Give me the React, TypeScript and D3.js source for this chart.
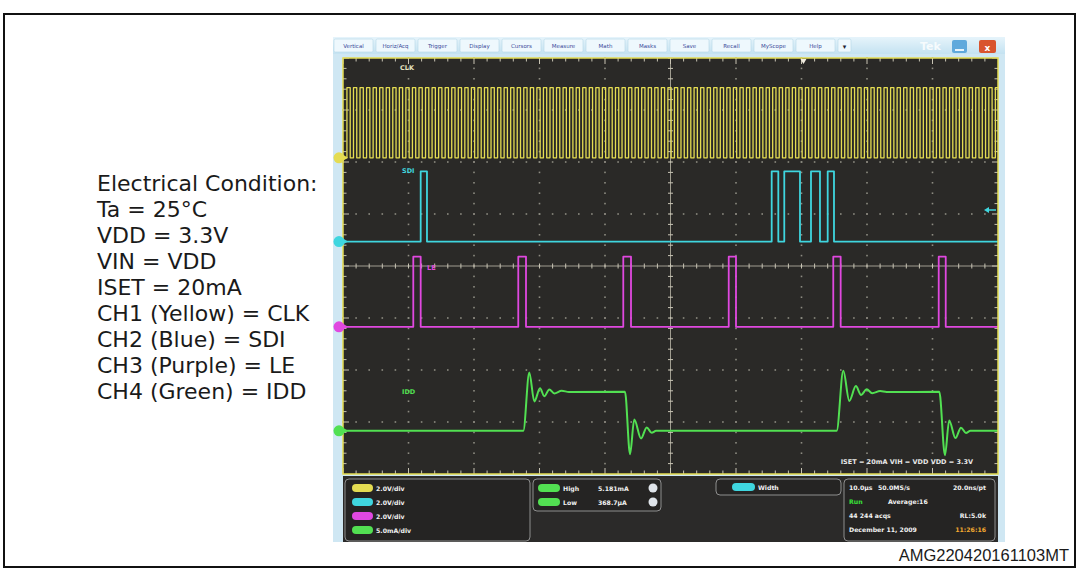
import React from 'react';
import * as d3 from 'd3';

// time axis: 10 div x 10.0us
const timeDomain = [0, 100];
const divDomain = [-4, 4];

// CH1 CLK rising edges (us) and high time
const clkRise = [
  0.6, 1.6, 2.6, 3.6, 4.6, 5.6, 6.6, 7.6, 8.6, 9.6,
  10.6, 11.6, 12.6, 13.6, 14.6, 15.6, 16.6, 17.6, 18.6, 19.6,
  20.6, 21.6, 22.6, 23.6, 24.6, 25.6, 26.6, 27.6, 28.6, 29.6,
  30.6, 31.6, 32.6, 33.6, 34.6, 35.6, 36.6, 37.6, 38.6, 39.6,
  40.6, 41.6, 42.6, 43.6, 44.6, 45.6, 46.6, 47.6, 48.6, 49.6,
  50.6, 51.6, 52.6, 53.6, 54.6, 55.6, 56.6, 57.6, 58.6, 59.6,
  60.6, 61.6, 62.6, 63.6, 64.6, 65.6, 66.6, 67.6, 68.6, 69.6,
  70.6, 71.6, 72.6, 73.6, 74.6, 75.6, 76.6, 77.6, 78.6, 79.6,
  80.6, 81.6, 82.6, 83.6, 84.6, 85.6, 86.6, 87.6, 88.6, 89.6,
  90.6, 91.6, 92.6, 93.6, 94.6, 95.6, 96.6, 97.6, 98.6, 99.6,
];
const clkHighUs = 0.5;

// CH2 SDI high intervals (us)
const sdiPulses: [number, number][] = [
  [11.86, 12.82], [65.45, 66.46], [67.37, 69.77], [71.45, 72.82], [74.0, 74.96],
];

// CH3 LE high intervals (us)
const lePulses: [number, number][] = [
  [10.73, 11.86], [26.76, 27.94], [42.79, 43.97], [58.89, 60.0], [74.85, 75.98], [90.95, 92.02],
];

// CH4 IDD samples [us, mA]
const iddPoints: [number, number][] = [
  [0, 0], [27.53, 0], [28.44, 5.61], [29.21, 2.83], [30.08, 4.09], [30.73, 3.33],
  [31.5, 3.98], [32.26, 3.6], [33.39, 3.85], [34.5, 3.74], [43.05, 3.75],
  [43.82, -2.24], [44.47, 1.09], [45.5, -0.73], [46.37, 0.33], [47.13, -0.19], [47.8, 0],
  [75.37, 0], [76.38, 5.77], [77.3, 2.88], [78.3, 4.3], [79.1, 3.45], [79.95, 4.0],
  [80.8, 3.62], [82.0, 3.82], [83.0, 3.74], [91.04, 3.75],
  [91.9, -2.34], [92.55, 1.0], [93.5, -0.7], [94.35, 0.3], [95.1, -0.2], [95.8, 0], [100, 0],
];

const channels = [
  { name: 'CLK', color: '#e4dc52', offset: 2.08, perDiv: 2.0, high: 2.7 },
  { name: 'SDI', color: '#3fd6df', offset: 0.47, perDiv: 2.0, high: 2.7 },
  { name: 'LE', color: '#e048e0', offset: -1.17, perDiv: 2.0, high: 2.7 },
  { name: 'IDD', color: '#52e052', offset: -3.17, perDiv: 5.0, high: 0 },
];

const conditionLines = [
  'Electrical Condition:', 'Ta = 25°C', 'VDD = 3.3V', 'VIN = VDD', 'ISET = 20mA',
  'CH1 (Yellow) = CLK', 'CH2 (Blue) = SDI', 'CH3 (Purple) = LE', 'CH4 (Green) = IDD',
];

const menuItems = ['Vertical', 'Horiz/Acq', 'Trigger', 'Display', 'Cursors', 'Measure', 'Math', 'Masks', 'Save', 'Recall', 'MyScope', 'Help'];
const scaleLabels = ['2.0V/div', '2.0V/div', '2.0V/div', '5.0mA/div'];
const measRows = [['High', '5.181mA'], ['Low', '368.7µA']];

const W = 1079, H = 572;
const P = { left: 343, right: 998, top: 58, bottom: 474 };

const App: React.FC = () => {
  const x = d3.scaleLinear().domain(timeDomain).range([P.left, P.right]);
  const y = d3.scaleLinear().domain(divDomain).range([P.bottom, P.top]);
  const line = d3.line<[number, number]>().x(d => x(d[0])).y(d => d[1]);

  const digital = (pulses: [number, number][], ch: typeof channels[0]) => {
    const lo = y(ch.offset), hi = y(ch.offset + ch.high / ch.perDiv);
    const pts: [number, number][] = [[timeDomain[0], lo]];
    pulses.forEach(([s, e]) => {
      pts.push([s, lo], [s, hi], [Math.min(e, 100.5), hi], [Math.min(e, 100.5), lo]);
    });
    pts.push([timeDomain[1], lo]);
    return line(pts) || '';
  };

  const clkPulses = clkRise.map(r => [r, r + clkHighUs] as [number, number]);
  const iddLine = d3.line<[number, number]>()
    .x(d => x(d[0]))
    .y(d => y(channels[3].offset + d[1] / channels[3].perDiv))
    .curve(d3.curveMonotoneX);

  // grid dots
  const dotColor = '#8c8a80';
  const minorX = d3.range(0, 50).map(i => P.left + (i * (P.right - P.left)) / 50);
  const minorY = d3.range(0, 40).map(i => P.top + (i * (P.bottom - P.top)) / 40);
  const gridDots: JSX.Element[] = [];
  d3.range(1, 10).filter(i => i !== 5).forEach(i => {
    const gx = x(i * 10);
    minorY.forEach((yy, k) => gridDots.push(<rect key={`v${i}-${k}`} x={gx - 0.8} y={yy - 0.8} width={1.6} height={1.6} fill={dotColor} />));
  });
  d3.range(-3, 4).filter(i => i !== 0).forEach(i => {
    const gy = y(i);
    minorX.forEach((xx, k) => gridDots.push(<rect key={`h${i}-${k}`} x={xx - 0.8} y={gy - 0.8} width={1.6} height={1.6} fill={dotColor} />));
  });

  const cx = x(50), cy = y(0);
  const ticks: JSX.Element[] = [];
  minorX.forEach((xx, k) => {
    const major = k % 5 === 0;
    const len = major ? 6 : 3.5;
    ticks.push(<line key={`tt${k}`} x1={xx} x2={xx} y1={P.top} y2={P.top + len} />);
    ticks.push(<line key={`tb${k}`} x1={xx} x2={xx} y1={P.bottom} y2={P.bottom - len} />);
    ticks.push(<line key={`tc${k}`} x1={xx} x2={xx} y1={cy - 2.5} y2={cy + 2.5} />);
  });
  minorY.forEach((yy, k) => {
    const major = k % 5 === 0;
    const len = major ? 6 : 3.5;
    ticks.push(<line key={`tl${k}`} x1={P.left} x2={P.left + len} y1={yy} y2={yy} />);
    ticks.push(<line key={`tr${k}`} x1={P.right} x2={P.right - len} y1={yy} y2={yy} />);
    ticks.push(<line key={`tm${k}`} x1={cx - 2.5} x2={cx + 2.5} y1={yy} y2={yy} />);
  });

  const btnW = 39, btnStep = 42;
  const mono = 'DejaVu Sans, Verdana, sans-serif';

  return (
    <div style={{ position: 'absolute', left: 0, top: 0, width: W, height: H, background: '#fff' }}>
      <svg width={W} height={H} viewBox={`0 0 ${W} ${H}`} style={{ display: 'block' }}>
        <defs>
          <clipPath id="plotClip">
            <rect x={P.left} y={P.top} width={P.right - P.left} height={P.bottom - P.top} />
          </clipPath>
          <linearGradient id="menuGrad" x1="0" y1="0" x2="0" y2="1">
            <stop offset="0" stopColor="#e6f4fb" />
            <stop offset="1" stopColor="#c4e2f1" />
          </linearGradient>
        </defs>

        {/* title, cropped by the top edge as in the source page */}
        <text x={545} y={-4} textAnchor="middle" fontFamily="Liberation Sans, Arial, sans-serif" fontWeight="bold" fontSize={18} fill="#111">
          Figure 22. Dynamic power saving - typical waveforms
        </text>
        <rect x={4} y={14} width={1071} height={553} fill="none" stroke="#111" strokeWidth={2} />

        {/* condition text */}
        <g fontFamily={mono} fontSize={22} fill="#1a1a1a">
          {conditionLines.map((t, i) => (
            <text key={t} x={97} y={191 + i * 26}>{t}</text>
          ))}
        </g>

        {/* scope window frame */}
        <rect x={333} y={37} width={672} height={505} fill="#cfe7f3" />
        <rect x={333} y={37} width={672} height={17} fill="url(#menuGrad)" />
        <g fontFamily={mono} fontSize={5.5} fill="#3a4a9a">
          {menuItems.map((m, i) => (
            <g key={m}>
              <rect x={334 + i * btnStep} y={39} width={btnW} height={13} rx={1.5} fill="#eef8fd" stroke="#b6d6e8" strokeWidth={0.6} />
              <text x={334 + i * btnStep + btnW / 2} y={48} textAnchor="middle">{m}</text>
            </g>
          ))}
          <rect x={838} y={39} width={13} height={13} rx={1.5} fill="#eef8fd" stroke="#b6d6e8" strokeWidth={0.6} />
          <text x={844.5} y={48.5} textAnchor="middle" fontSize={7} fill="#223">▾</text>
        </g>
        <text x={920} y={50} fontFamily={mono} fontWeight="bold" fontSize={11} fill="#f6fbfd">Tek</text>
        <rect x={952} y={40} width={15} height={13} rx={2} fill="#5fa9dc" />
        <rect x={955} y={49} width={9} height={2} fill="#e8f4fb" />
        <rect x={979} y={40} width={17} height={13} rx={2} fill="#d9542e" />
        <text x={987.5} y={50.5} textAnchor="middle" fontFamily={mono} fontWeight="bold" fontSize={9} fill="#fff">x</text>

        {/* plot */}
        <rect x={P.left} y={P.top} width={P.right - P.left} height={P.bottom - P.top} fill="#2a2927" />
        <g>{gridDots}</g>
        <g stroke="#c8c4b4" strokeWidth={1}>
          <line x1={P.left} x2={P.right} y1={cy} y2={cy} strokeOpacity={0.75} />
          <line x1={cx} x2={cx} y1={P.top} y2={P.bottom} strokeOpacity={0.75} />
          {ticks}
        </g>

        <g clipPath="url(#plotClip)" fill="none" strokeLinejoin="round">
          <path d={digital(clkPulses, channels[0])} stroke={channels[0].color} strokeWidth={1.3} />
          <path d={digital(sdiPulses, channels[1])} stroke={channels[1].color} strokeWidth={1.8} />
          <path d={digital(lePulses, channels[2])} stroke={channels[2].color} strokeWidth={1.8} />
          <path d={iddLine(iddPoints) || ''} stroke={channels[3].color} strokeWidth={2} />
        </g>

        {/* channel labels */}
        <g fontFamily={mono} fontWeight="bold" fontSize={6.5}>
          <text x={400} y={70} fill="#e6e2c0">CLK</text>
          <text x={402} y={173} fill={channels[1].color}>SDI</text>
          <text x={427} y={270} fill={channels[2].color}>LE</text>
          <text x={402} y={394} fill={channels[3].color}>IDD</text>
        </g>
        <text x={973} y={464} textAnchor="end" fontFamily={mono} fontWeight="bold" fontSize={6.5} fill="#e8e8e8">
          ISET = 20mA   VIH = VDD   VDD = 3.3V
        </text>

        {/* trigger marker and SDI reference arrow */}
        <path d={`M${x(70.3) - 3},${P.top + 1} L${x(70.3) + 3},${P.top + 1} L${x(70.3)},${P.top + 6} Z`} fill="#f0ece0" />
        <g stroke={channels[1].color} strokeWidth={1.5}>
          <line x1={987} x2={996} y1={210} y2={210} />
        </g>
        <path d="M984,210 L989,207 L989,213 Z" fill={channels[1].color} />

        {/* plot frame */}
        <rect x={P.left} y={P.top} width={P.right - P.left} height={P.bottom - P.top} fill="none" stroke="#e4dc52" strokeWidth={1.5} />

        {/* channel ground markers */}
        {channels.map(ch => (
          <g key={ch.name}>
            <circle cx={339} cy={y(ch.offset)} r={5.5} fill={ch.color} />
            <path d={`M343,${y(ch.offset) - 3} L348,${y(ch.offset)} L343,${y(ch.offset) + 3} Z`} fill={ch.color} />
          </g>
        ))}

        {/* bottom panel */}
        <rect x={P.left} y={476} width={P.right - P.left} height={66} fill="#2b2a29" />
        <g fill="#252423" stroke="#8e8e8e" strokeWidth={1}>
          <rect x={345} y={479} width={185} height={62} rx={4} />
          <rect x={533} y={479} width={128} height={32} rx={4} />
          <rect x={716} y={479} width={125} height={16} rx={4} />
          <rect x={844} y={479} width={151} height={62} rx={4} />
        </g>
        <g fontFamily={mono} fontWeight="bold" fontSize={6.2} fill="#f2f2f2">
          {channels.map((ch, i) => (
            <g key={`s${ch.name}`}>
              <rect x={352} y={484 + i * 14} width={21} height={8} rx={4} fill={ch.color} />
              <text x={376} y={491 + i * 14}>{scaleLabels[i]}</text>
            </g>
          ))}
          {measRows.map(([k, v], i) => (
            <g key={k}>
              <rect x={538} y={484 + i * 14} width={22} height={8} rx={4} fill={channels[3].color} />
              <text x={563} y={491 + i * 14}>{k}</text>
              <text x={598} y={491 + i * 14}>{v}</text>
              <circle cx={653} cy={488 + i * 14} r={4.5} fill="#dfe4ea" />
            </g>
          ))}
          <rect x={732} y={483} width={23} height={8} rx={4} fill={channels[1].color} />
          <text x={758} y={490}>Width</text>

          <text x={849} y={490}>10.0µs</text>
          <text x={878} y={490}>50.0MS/s</text>
          <text x={986} y={490} textAnchor="end">20.0ns/pt</text>
          <text x={849} y={504} fill="#39e039">Run</text>
          <text x={888} y={504}>Average:16</text>
          <text x={849} y={518}>44 244 acqs</text>
          <text x={986} y={518} textAnchor="end">RL:5.0k</text>
          <text x={849} y={532}>December 11, 2009</text>
          <text x={986} y={532} textAnchor="end" fill="#f0a830">11:26:16</text>
        </g>

        <text x={1069} y={561} textAnchor="end" fontFamily="Liberation Sans, Arial, sans-serif" fontSize={16.5} fill="#1a1a1a">
          AMG220420161103MT
        </text>
      </svg>
    </div>
  );
};

export default App;
